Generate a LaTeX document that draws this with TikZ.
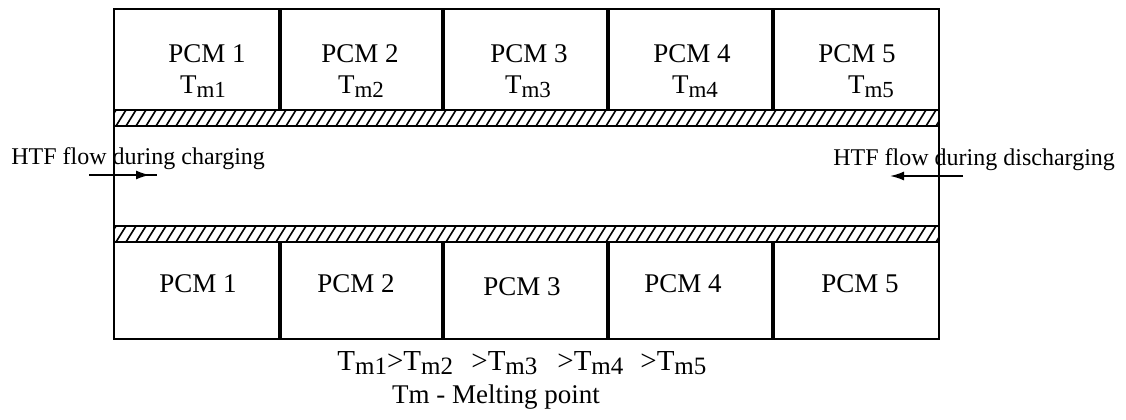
\documentclass[tikz,border=0pt]{standalone}
\usepackage{fontspec}
\setmainfont{Liberation Serif}
\usetikzlibrary{arrows.meta}
\newcommand\tsub[1]{\raisebox{-0.35ex}{\fontsize{11.5}{13}\selectfont #1}}
\newcommand\nsub[1]{\raisebox{-0.3ex}{\fontsize{12.5}{14}\selectfont #1}}
\begin{document}
\begin{tikzpicture}[x=0.5pt,y=-0.5pt,
  border/.style={line width=1.3pt},
  divider/.style={line width=1.8pt},
  wall/.style={line width=0.9pt},
  hatch/.style={line width=0.8pt},
  lbl/.style={inner sep=0pt,anchor=base,font=\fontsize{13.5}{15}\selectfont},
  htf/.style={inner sep=0pt,anchor=base west,font=\fontsize{12}{14}\selectfont},
  note/.style={inner sep=0pt,anchor=base west,font=\fontsize{14.5}{16}\selectfont},
  flow/.style={line width=0.9pt,-{Latex[length=7pt,width=4.5pt]}}]
\useasboundingbox (0,0) rectangle (1126,419);
% hatched walls
\foreach \ys in {110,226} {
  \begin{scope}
    \clip (114,\ys) rectangle (939,\ys+16);
    \foreach \x in {96,106,...,946} \draw[hatch] (\x,\ys+16) -- (\x+10,\ys);
  \end{scope}
  \draw[wall] (114,\ys) rectangle (939,\ys+16);
}
% outer border
\draw[border] (114,9) rectangle (939,339);
% dividers
\foreach \x in {280,443,608,773} {
  \draw[divider] (\x,9) -- (\x,110);
  \draw[divider] (\x,242) -- (\x,339);
}
% top labels
\node[lbl] (p1t) at (207,62) {PCM 1};
\node[lbl] (p2t) at (360,62) {PCM 2};
\node[lbl] (p3t) at (529,62) {PCM 3};
\node[lbl] (p4t) at (692,62) {PCM 4};
\node[lbl] (p5t) at (857,62) {PCM 5};
\node[lbl] (t1) at (203,93) {T\tsub{m1}};
\node[lbl] (t2) at (361,93) {T\tsub{m2}};
\node[lbl] (t3) at (528,93) {T\tsub{m3}};
\node[lbl] (t4) at (695,93) {T\tsub{m4}};
\node[lbl] (t5) at (871,93) {T\tsub{m5}};
% bottom labels
\node[lbl] (p1b) at (198,292) {PCM 1};
\node[lbl] (p2b) at (356,292) {PCM 2};
\node[lbl] (p3b) at (522,295) {PCM 3};
\node[lbl] (p4b) at (683,292) {PCM 4};
\node[lbl] (p5b) at (860,292) {PCM 5};
% flow labels and arrows
\node[htf] (hc) at (11,164) {HTF flow during charging};
\node[htf] (hd) at (833,165) {HTF flow during discharging};
\coordinate (a1s) at (89,175);
\coordinate (a1m) at (150,175);
\coordinate (a1e) at (157,175);
\draw[flow] (a1s) -- (a1m);
\draw[line width=0.9pt] (a1s) -- (a1e);
\coordinate (a2s) at (963,176);
\coordinate (a2m) at (890,176);
\draw[flow] (a2s) -- (a2m);
% bottom notes
\node[note] (n1) at (337,370) {T\nsub{m1}>T\nsub{m2}};
\node[note] (n2) at (471,370) {>T\nsub{m3}};
\node[note] (n3) at (557,370) {>T\nsub{m4}};
\node[note] (n4) at (640,370) {>T\nsub{m5}};
\node[inner sep=0pt,anchor=base,font=\fontsize{13.5}{15}\selectfont] (mp) at (496,403) {Tm - Melting point};
\end{tikzpicture}
\end{document}
